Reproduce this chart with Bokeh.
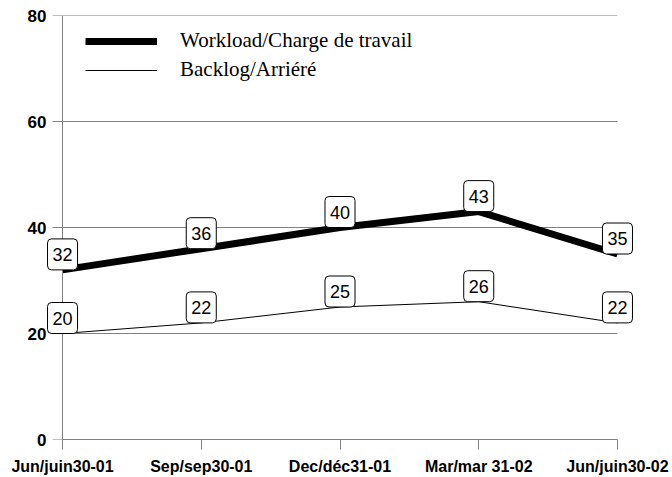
from bokeh.plotting import figure
from bokeh.models import Range1d, FixedTicker, ColumnDataSource, Legend, LegendItem, Label, LinearAxis
from bokeh.embed import file_html
from bokeh.resources import INLINE

# ---- data ----
periods = ["Jun/juin30-01", "Sep/sep30-01", "Dec/déc31-01", "Mar/mar 31-02", "Jun/juin30-02"]
x_pos = [0, 1, 2, 3, 4]
workload = [32, 36, 40, 43, 35]
backlog = [20, 22, 25, 26, 22]
y_ticks = [0, 20, 40, 60, 80]
series_names = ["Workload/Charge de travail", "Backlog/Arriéré"]

pad = 0.13  # extra room so edge labels are not clipped
p = figure(width=672, height=477, output_backend="svg", toolbar_location=None,
           x_range=Range1d(x_pos[0] - pad, x_pos[-1] + pad), y_range=Range1d(0, 80),
           min_border_left=44, min_border_right=37, min_border_top=15, min_border_bottom=30)
p.outline_line_color = None
p.background_fill_color = "white"
p.xgrid.grid_line_color = None
p.ygrid.grid_line_color = None

# x axis
xa = p.xaxis[0]
xa.axis_line_color = "#808080"
xa.major_tick_line_color = "#808080"
xa.minor_tick_line_color = None
xa.major_tick_out = 10
xa.major_tick_in = 0
xa.major_label_text_font = "Liberation Sans"
xa.major_label_text_font_style = "bold"
xa.major_label_text_color = "black"
xa.major_label_text_font_size = "16px"
xa.major_label_standoff = 8
xa.ticker = FixedTicker(ticks=x_pos)
xa.bounds = (x_pos[0], x_pos[-1])
xa.major_label_overrides = {i: s for i, s in zip(x_pos, periods)}

# y axis labels (at frame edge, no line/ticks)
ya = p.yaxis[0]
ya.ticker = FixedTicker(ticks=y_ticks)
ya.axis_line_color = None
ya.major_tick_line_color = None
ya.minor_tick_line_color = None
ya.major_tick_out = 0
ya.major_tick_in = 0
ya.major_label_standoff = -2
ya.major_label_text_font = "Liberation Sans"
ya.major_label_text_font_style = "bold"
ya.major_label_text_font_size = "17px"
ya.major_label_text_color = "black"

# visible y axis line and ticks at the first category
ya2 = LinearAxis(fixed_location=x_pos[0], ticker=FixedTicker(ticks=y_ticks),
                 bounds=(y_ticks[0], y_ticks[-1]),
                 axis_line_color="#808080", major_tick_line_color="#808080",
                 minor_tick_line_color=None, major_tick_out=10, major_tick_in=0,
                 major_label_text_alpha=0)
p.add_layout(ya2, "left")

# horizontal grid lines spanning only the category extent
p.segment(x0=[x_pos[0]] * len(y_ticks), x1=[x_pos[-1]] * len(y_ticks),
          y0=y_ticks, y1=y_ticks, line_color="#808080", line_width=1, level="underlay")

src_w = ColumnDataSource(dict(x=x_pos, y=workload))
src_b = ColumnDataSource(dict(x=x_pos, y=backlog))

r_w = p.line("x", "y", source=src_w, line_color="black", line_width=7)
r_b = p.line("x", "y", source=src_b, line_color="black", line_width=1)

box_pad = dict(left=5, right=5, top=9, bottom=9)
for series in (workload, backlog):
    for xv, yv in zip(x_pos, series):
        shadow = Label(x=xv, y=yv, text=str(yv), anchor="bottom_center",
                       x_offset=2, y_offset=-2, text_alpha=0,
                       text_font="Liberation Sans", text_font_size="18px",
                       padding=box_pad, border_radius=4,
                       background_fill_color="#606060", border_line_color=None)
        box = Label(x=xv, y=yv, text=str(yv), anchor="bottom_center",
                    text_color="black",
                    text_font="Liberation Sans", text_font_size="18px",
                    padding=box_pad, border_radius=4,
                    background_fill_color="white", border_line_color="black",
                    border_line_width=1)
        p.add_layout(shadow)
        p.add_layout(box)

legend = Legend(items=[LegendItem(label=series_names[0], renderers=[r_w]),
                       LegendItem(label=series_names[1], renderers=[r_b])],
                location=(41, 357), padding=0, margin=0, spacing=4,
                glyph_width=72, glyph_height=20, label_height=20, label_standoff=23,
                label_text_font="Liberation Serif", label_text_font_size="21px",
                label_text_color="black",
                background_fill_alpha=0, border_line_color=None)
p.add_layout(legend, "center")

open("out.html", "w").write(file_html(p, INLINE))
